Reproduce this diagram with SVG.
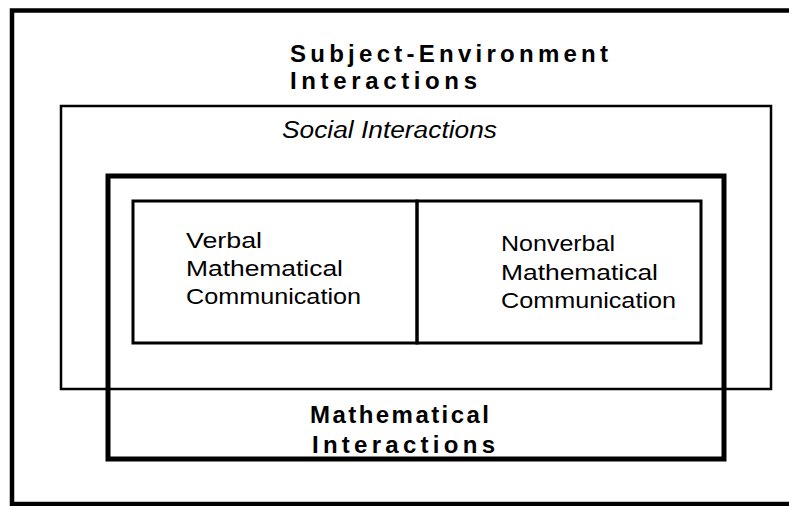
<svg xmlns="http://www.w3.org/2000/svg" width="789" height="506" viewBox="0 0 789 506">
<style>
.box{fill:none;stroke:#000;stroke-linejoin:miter}
.t{font-family:"Liberation Sans",Arial,sans-serif;fill:#000}
.b{font-weight:bold;font-size:24px}
.r{font-size:22px}
.i{font-style:italic;font-size:23px}
</style>
<rect width="789" height="506" fill="#fff"/>
<g id="subject-environment">
<rect class="box" x="12" y="10.5" width="800" height="493.5" stroke-width="4.5"/>
<text class="t b" x="290" y="62" textLength="318" lengthAdjust="spacing">Subject-Environment</text>
<text class="t b" x="290" y="89" textLength="187" lengthAdjust="spacing">Interactions</text>
</g>
<g id="social">
<rect class="box" x="61" y="106" width="710" height="283" stroke-width="2.5"/>
<text class="t i" x="282" y="138" textLength="215" lengthAdjust="spacingAndGlyphs">Social  Interactions</text>
</g>
<g id="mathematical">
<rect class="box" x="108" y="176" width="616" height="283" stroke-width="5"/>
<text class="t b" x="310" y="423" textLength="179" lengthAdjust="spacing">Mathematical</text>
<text class="t b" x="312" y="453" textLength="183" lengthAdjust="spacing">Interactions</text>
</g>
<g id="verbal">
<rect class="box" x="133" y="201" width="284" height="142" stroke-width="3"/>
<text class="t r" x="186" y="248" textLength="76" lengthAdjust="spacingAndGlyphs">Verbal</text>
<text class="t r" x="186" y="276" textLength="157" lengthAdjust="spacingAndGlyphs">Mathematical</text>
<text class="t r" x="186" y="304" textLength="175" lengthAdjust="spacingAndGlyphs">Communication</text>
</g>
<g id="nonverbal">
<rect class="box" x="417" y="201" width="284" height="142" stroke-width="3"/>
<text class="t r" x="501" y="251" textLength="114" lengthAdjust="spacingAndGlyphs">Nonverbal</text>
<text class="t r" x="501" y="280" textLength="157" lengthAdjust="spacingAndGlyphs">Mathematical</text>
<text class="t r" x="501" y="308" textLength="175" lengthAdjust="spacingAndGlyphs">Communication</text>
</g>
</svg>
